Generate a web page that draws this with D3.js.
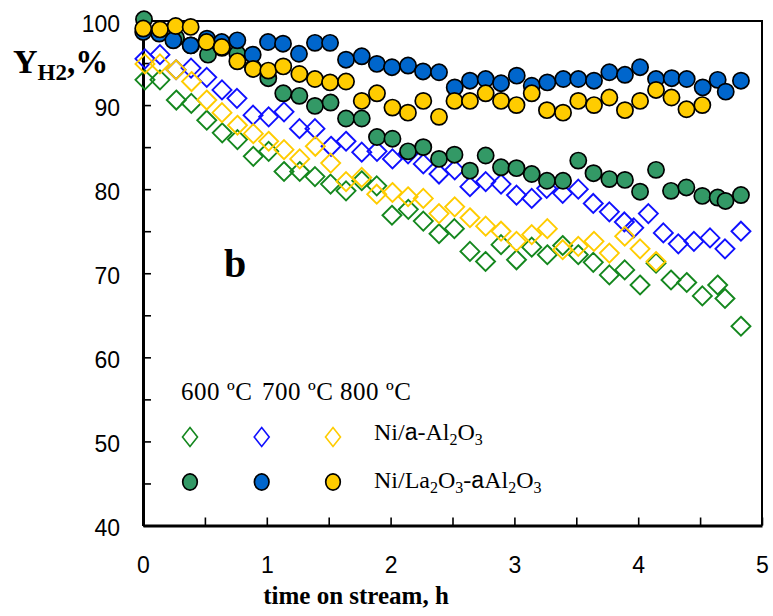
<!DOCTYPE html>
<html>
<head>
<meta charset="utf-8">
<script src="https://cdn.jsdelivr.net/npm/d3@7"></script>
<style>
  html, body { margin: 0; padding: 0; background: #fff; }
</style>
</head>
<body>
<div id="chart"></div>
<script>
// time on stream (h) and H2 yield (%)
const niAl600T = [0.016,0.137,0.269,0.390,0.515,0.640,0.763,0.891,1.015,1.139,1.266,1.389,1.515,1.640,1.767,1.888,2.011,2.143,2.264,2.391,2.515,2.641,2.767,2.892,3.017,3.140,3.266,3.390,3.516,3.637,3.767,3.891,4.015,4.144,4.265,4.392,4.518,4.642,4.701,4.830];
const niAl600Y = [93.0,93.0,90.6,90.2,88.2,86.7,85.9,83.9,84.5,82.1,82.1,81.5,80.6,79.8,81.0,80.4,76.9,77.6,76.2,74.7,75.3,72.6,71.4,73.4,71.6,73.1,72.2,73.3,72.2,71.3,69.8,70.4,68.6,71.2,69.2,68.9,67.3,68.6,67.0,63.7];

const niAl700T = [0.016,0.137,0.267,0.388,0.515,0.638,0.759,0.889,1.015,1.139,1.264,1.389,1.519,1.640,1.767,1.890,2.015,2.141,2.264,2.391,2.518,2.641,2.768,2.892,3.017,3.140,3.261,3.390,3.516,3.637,3.767,3.888,3.964,4.082,4.203,4.324,4.450,4.580,4.701,4.830];
const niAl700Y = [95.5,96.0,94.2,94.4,93.3,91.8,90.8,88.8,88.6,89.2,87.2,87.2,85.1,85.7,84.4,84.5,83.6,84.2,83.0,81.8,82.3,80.3,80.9,80.6,79.3,78.9,80.1,79.5,80.0,78.3,77.3,76.1,75.4,77.1,74.8,73.5,73.8,74.2,72.9,75.0];

const niAl800T = [0.016,0.137,0.267,0.392,0.515,0.638,0.763,0.891,1.015,1.139,1.266,1.392,1.516,1.640,1.767,1.888,2.015,2.141,2.264,2.391,2.518,2.641,2.768,2.892,3.017,3.140,3.266,3.390,3.516,3.643,3.767,3.891,4.015,4.144];
const niAl800Y = [94.9,94.9,94.2,92.8,90.6,89.1,87.6,86.6,85.7,84.7,83.6,85.1,83.1,80.9,81.4,79.4,79.6,79.1,78.9,77.1,77.9,76.6,75.6,75.0,73.8,74.6,75.3,72.8,73.2,73.8,72.4,74.4,72.9,71.4];

const niLa600T = [0.008,0.137,0.267,0.388,0.525,0.638,0.762,0.889,1.012,1.133,1.263,1.389,1.515,1.640,1.767,1.890,2.015,2.141,2.264,2.391,2.516,2.641,2.768,2.892,3.017,3.140,3.263,3.393,3.516,3.639,3.767,3.893,4.015,4.144,4.265,4.389,4.518,4.642,4.705,4.830];
const niLa600Y = [100.2,98.8,98.0,97.1,96.0,96.8,96.1,94.4,93.2,91.4,91.1,89.9,90.3,88.4,88.4,86.2,86.0,84.5,85.0,83.6,84.1,82.2,84.0,82.6,82.5,81.8,81.0,81.0,83.4,81.9,81.2,81.1,79.7,82.3,79.8,80.2,79.2,79.0,78.6,79.3];

const niLa700T = [0.002,0.131,0.245,0.385,0.517,0.636,0.762,0.886,1.010,1.131,1.260,1.389,1.511,1.640,1.767,1.889,2.011,2.141,2.262,2.391,2.518,2.641,2.768,2.892,3.019,3.140,3.266,3.395,3.516,3.643,3.767,3.893,4.015,4.144,4.271,4.392,4.521,4.642,4.707,4.830];
const niLa700Y = [98.7,98.5,97.7,97.1,97.9,97.5,97.7,96.0,97.5,97.3,96.1,97.4,97.4,95.4,95.8,94.9,94.5,94.7,94.0,93.9,92.1,92.9,93.1,92.6,93.5,92.3,92.7,93.1,93.1,92.9,93.9,93.6,94.5,93.1,93.2,93.1,92.1,93.0,91.6,92.9];

const niLa800T = [0.002,0.137,0.264,0.385,0.513,0.636,0.762,0.889,1.012,1.133,1.263,1.389,1.511,1.640,1.767,1.890,2.015,2.140,2.264,2.391,2.516,2.641,2.768,2.892,3.017,3.140,3.263,3.393,3.516,3.643,3.767,3.893,4.015,4.144,4.269,4.390,4.518];
const niLa800Y = [99.1,99.0,99.4,99.3,97.5,96.9,95.2,94.3,94.1,94.6,93.7,93.1,92.7,92.8,90.5,91.4,89.7,89.1,90.5,88.6,90.5,90.5,91.4,90.5,90.0,91.4,89.4,89.1,90.5,90.0,90.9,89.4,90.5,91.8,90.9,89.5,90.0];

const tempLabels = ['600 ºC', '700 ºC', '800 ºC'];
const xTicks = [0, 0.5, 1, 1.5, 2, 2.5, 3, 3.5, 4, 4.5, 5];
const yTicks = [40, 45, 50, 55, 60, 65, 70, 75, 80, 85, 90, 95, 100];

const width = 773, height = 616;
const serif = 'Liberation Serif, Times New Roman, serif';
const sans = 'Liberation Sans, Arial, sans-serif';

const greenD = '#14871e', blueD = '#1010ff', yellowD = '#ffcc00';
const greenC = '#339966', blueC = '#0066cc', yellowC = '#ffcc00';

const svg = d3.select('#chart').append('svg')
  .attr('width', width)
  .attr('height', height)
  .attr('viewBox', `0 0 ${width} ${height}`);

const x = d3.scaleLinear().domain([0, 5]).range([143, 762]);
const y = d3.scaleLinear().domain([40, 100]).range([525.5, 21]);

// frame (top and right)
svg.append('path')
  .attr('d', `M${x(0)},${y(100)}H${x(5)}V${y(40)}`)
  .attr('fill', 'none')
  .attr('stroke', '#000')
  .attr('stroke-width', 2);

// axes with inside ticks
const xAxis = svg.append('g')
  .attr('transform', `translate(0,${y(40)})`)
  .call(d3.axisBottom(x).tickValues(xTicks).tickSizeInner(-8).tickSizeOuter(0).tickPadding(30)
    .tickFormat(d => Number.isInteger(d) ? d : ''));

const yAxis = svg.append('g')
  .attr('transform', `translate(${x(0)},0)`)
  .call(d3.axisLeft(y).tickValues(yTicks).tickSizeInner(-8).tickSizeOuter(0).tickPadding(23)
    .tickFormat(d => d % 10 === 0 ? d : ''));

[xAxis, yAxis].forEach(g => {
  g.attr('font-family', sans).attr('font-size', 23);
  g.select('.domain').attr('stroke-width', 3);
  g.selectAll('.tick line').attr('stroke-width', 1.6);
  g.selectAll('.tick text').attr('fill', '#000');
});
yAxis.selectAll('.tick text').attr('dy', null).attr('y', 10);
xAxis.selectAll('.tick text').attr('dy', null).attr('y', 47);

// markers
const diamond = (rx, ry) => `M0,${-ry}L${rx},0L0,${ry}L${-rx},0Z`;

function drawDiamonds(ts, vs, color) {
  svg.append('g').selectAll('path')
    .data(ts.map((t, i) => [t, vs[i]]))
    .join('path')
    .attr('transform', d => `translate(${x(d[0])},${y(d[1])})`)
    .attr('d', diamond(9.5, 9.5))
    .attr('fill', 'none')
    .attr('stroke', color)
    .attr('stroke-width', 1.9);
}

function drawCircles(ts, vs, color) {
  svg.append('g').selectAll('circle')
    .data(ts.map((t, i) => [t, vs[i]]))
    .join('circle')
    .attr('cx', d => x(d[0]))
    .attr('cy', d => y(d[1]))
    .attr('r', 8.1)
    .attr('fill', color)
    .attr('stroke', '#000')
    .attr('stroke-width', 1.7);
}

drawDiamonds(niAl600T, niAl600Y, greenD);
drawDiamonds(niAl700T, niAl700Y, blueD);
drawDiamonds(niAl800T, niAl800Y, yellowD);
drawCircles(niLa600T, niLa600Y, greenC);
drawCircles(niLa700T, niLa700Y, blueC);
drawCircles(niLa800T, niLa800Y, yellowC);

// legend
const legX = [190, 261.7, 333];
const legTextX = [181, 262, 340];
tempLabels.forEach((t, i) => {
  svg.append('text')
    .attr('x', legTextX[i]).attr('y', 400)
    .attr('font-family', serif).attr('font-size', 25)
    .attr('textLength', 71).attr('lengthAdjust', 'spacing')
    .text(t);
});
[greenD, blueD, yellowD].forEach((c, i) => {
  svg.append('path')
    .attr('transform', `translate(${legX[i]},437)`)
    .attr('d', diamond(7.5, 9.5))
    .attr('fill', 'none').attr('stroke', c).attr('stroke-width', 1.6);
});
[greenC, blueC, yellowC].forEach((c, i) => {
  svg.append('ellipse')
    .attr('cx', legX[i]).attr('cy', 482)
    .attr('rx', 7.3).attr('ry', 8.2)
    .attr('fill', c).attr('stroke', '#000').attr('stroke-width', 1.7);
});

function chemLabel(yPos, parts) {
  const t = svg.append('text')
    .attr('x', 374).attr('y', yPos)
    .attr('font-family', serif).attr('font-size', 24);
  parts.forEach(p => {
    const s = t.append('tspan').text(p.text);
    if (p.sub) s.attr('font-size', 16).attr('baseline-shift', '-5');
    if (p.sans) s.attr('font-family', sans).attr('font-size', 23);
  });
}
chemLabel(440, [{ text: 'Ni/' }, { text: 'a', sans: true }, { text: '-Al' }, { text: '2', sub: true },
  { text: 'O' }, { text: '3', sub: true }]);
chemLabel(488, [{ text: 'Ni/La' }, { text: '2', sub: true }, { text: 'O' }, { text: '3', sub: true },
  { text: '-' }, { text: 'a', sans: true }, { text: 'Al' }, { text: '2', sub: true },
  { text: 'O' }, { text: '3', sub: true }]);

// panel letter
svg.append('text')
  .attr('x', 224).attr('y', 277)
  .attr('font-family', serif).attr('font-weight', 'bold').attr('font-size', 40)
  .text('b');

// axis titles
const yTitle = svg.append('text')
  .attr('x', 13).attr('y', 73)
  .attr('font-family', serif).attr('font-weight', 'bold').attr('font-size', 34);
yTitle.append('tspan').text('Y');
yTitle.append('tspan').attr('font-size', 23).attr('dy', 7).text('H2');
yTitle.append('tspan').attr('font-size', 33).attr('dy', -7).text(',%');

svg.append('text')
  .attr('x', 356).attr('y', 604)
  .attr('text-anchor', 'middle')
  .attr('font-family', serif).attr('font-weight', 'bold').attr('font-size', 25)
  .text('time on stream, h');
</script>
</body>
</html>
